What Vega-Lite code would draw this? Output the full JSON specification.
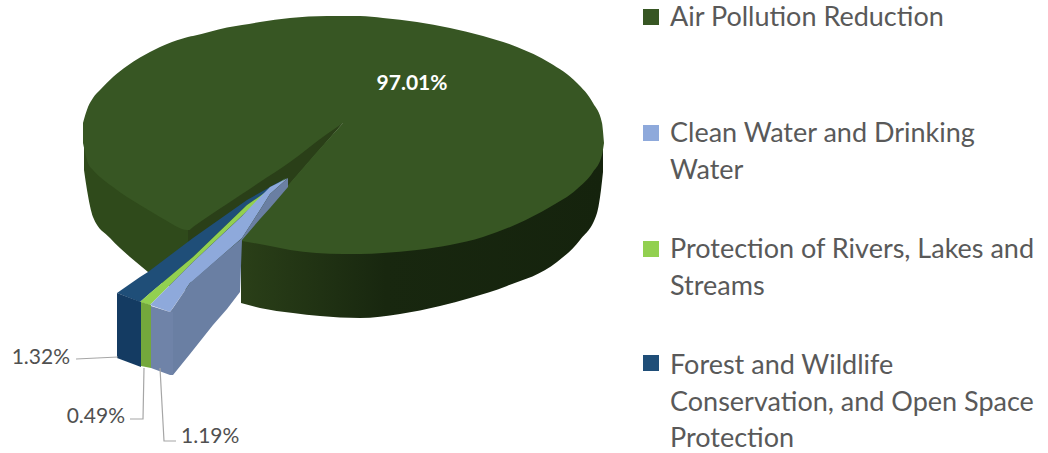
{
"$schema":"https://vega.github.io/schema/vega-lite/v6.json",
"width":1048,"height":453,"padding":0,
"autosize":{"type":"fit","contains":"padding"},
"background":"#ffffff",
"view":{"stroke":null},
"resolve":{"scale":{"color":"independent"}},
"encoding":{
"x":{"field":"x","type":"quantitative","axis":null,"scale":{"domain":[0,1048],"nice":false,"zero":false}},
"y":{"field":"y","type":"quantitative","axis":null,"scale":{"domain":[453,0],"nice":false,"zero":false}}
},
"layer":[
{"data":{"values":[
{"x":241,"y":232,"y2":303},{"x":260,"y":238,"y2":308},{"x":293,"y":242,"y2":313},{"x":320,"y":245,"y2":316},{"x":360,"y":246,"y2":318},{"x":400,"y":244,"y2":314},{"x":440,"y":239,"y2":306},{"x":470,"y":233,"y2":298},{"x":507,"y":222,"y2":286},{"x":557,"y":196,"y2":262},{"x":580,"y":179,"y2":240},{"x":597,"y":157,"y2":213},{"x":601,"y":143,"y2":190},{"x":603,"y":135,"y2":172}]},
"mark":{"type":"area","interpolate":"monotone","color":{"gradient":"linear","x1":0,"x2":1,"y1":0,"y2":0,"stops":[{"offset":0,"color":"#2a3f18"},{"offset":0.4,"color":"#18270f"},{"offset":1,"color":"#15230d"}]}},
"encoding":{"y2":{"field":"y2"}}},
{"data":{"values":[
{"part":"left wall","x":84,"y":135,"y2":170},{"part":"left wall","x":87,"y":150,"y2":190},{"part":"left wall","x":93,"y":160,"y2":217},{"part":"left wall","x":110,"y":175,"y2":238},{"part":"left wall","x":130,"y":190,"y2":257},{"part":"left wall","x":148,"y":200,"y2":272},{"part":"left wall","x":160,"y":208,"y2":282},{"part":"left wall","x":188,"y":222,"y2":290},
{"part":"notch","x":188,"y":226,"y2":290},{"part":"notch","x":242,"y":190,"y2":240},{"part":"notch","x":290,"y":158,"y2":184},{"part":"notch","x":343,"y":122,"y2":123},
{"part":"top a","x":83,"y":123,"y2":143},{"part":"top a","x":88,"y":107,"y2":163},{"part":"top a","x":93,"y":98,"y2":170},{"part":"top a","x":100,"y":90,"y2":177},{"part":"top a","x":113,"y":77,"y2":187},{"part":"top a","x":127,"y":66,"y2":197},{"part":"top a","x":140,"y":57.5,"y2":205},{"part":"top a","x":160,"y":47,"y2":217},{"part":"top a","x":167,"y":44,"y2":221},{"part":"top a","x":187,"y":37.3,"y2":230},{"part":"top a","x":189,"y":36.7,"y2":230},{"part":"top a","x":193,"y":36,"y2":227},{"part":"top a","x":227,"y":27.5,"y2":204},{"part":"top a","x":242,"y":25,"y2":194},{"part":"top a","x":260,"y":22,"y2":182},{"part":"top a","x":290,"y":18,"y2":162},{"part":"top a","x":327,"y":16,"y2":134},{"part":"top a","x":343,"y":16,"y2":123},
{"part":"top b","x":343,"y":16,"y2":254},{"part":"top b","x":360,"y":16,"y2":254},{"part":"top b","x":383,"y":18,"y2":253},{"part":"top b","x":417,"y":22,"y2":250},{"part":"top b","x":450,"y":28,"y2":245},{"part":"top b","x":483,"y":36,"y2":237},{"part":"top b","x":517,"y":47,"y2":224},{"part":"top b","x":550,"y":63,"y2":207},{"part":"top b","x":577,"y":83,"y2":189},{"part":"top b","x":593,"y":103,"y2":172},{"part":"top b","x":602,"y":123,"y2":155},{"part":"top b","x":604,"y":143,"y2":143},
{"part":"top c","x":242,"y":238,"y2":241},{"part":"top c","x":270,"y":206,"y2":246},{"part":"top c","x":290,"y":183,"y2":250},{"part":"top c","x":316,"y":153,"y2":253},{"part":"top c","x":343,"y":123,"y2":254}
]},
"mark":{"type":"area","interpolate":"monotone"},
"encoding":{"y2":{"field":"y2"},"detail":{"field":"part"},
"color":{"field":"part","type":"nominal","legend":null,"scale":{
"domain":["left wall","notch","top a","top b","top c"],
"range":["#2f4a1b","#2a3f18","#375623","#375623","#375623"]}}}},
{"data":{"values":[
{"part":"forest top","x":117,"y":293,"y2":293},{"part":"forest top","x":140,"y":277,"y2":302},{"part":"forest top","x":148,"y":272,"y2":295},{"part":"forest top","x":193,"y":238,"y2":257},{"part":"forest top","x":247,"y":200,"y2":205},{"part":"forest top","x":286,"y":178,"y2":178},
{"part":"rivers top","x":140,"y":302,"y2":302},{"part":"rivers top","x":150,"y":293,"y2":305},{"part":"rivers top","x":193,"y":257,"y2":262},{"part":"rivers top","x":247,"y":205,"y2":211},{"part":"rivers top","x":286,"y":178,"y2":178},
{"part":"water top","x":150,"y":305,"y2":305},{"part":"water top","x":170,"y":285,"y2":312},{"part":"water top","x":190,"y":265,"y2":283},{"part":"water top","x":193,"y":262,"y2":281},{"part":"water top","x":242,"y":216,"y2":238},{"part":"water top","x":260,"y":197,"y2":210},{"part":"water top","x":270,"y":187,"y2":194},{"part":"water top","x":288,"y":178,"y2":178},
{"part":"water side","x":170,"y":312,"y2":370},{"part":"water side","x":173,"y":308,"y2":375},{"part":"water side","x":190,"y":283,"y2":354},{"part":"water side","x":213,"y":263,"y2":325},{"part":"water side","x":227,"y":251,"y2":309},{"part":"water side","x":240,"y":240,"y2":292},{"part":"water side","x":242,"y":238,"y2":240},{"part":"water side","x":260,"y":210,"y2":219},{"part":"water side","x":270,"y":194,"y2":208},{"part":"water side","x":288,"y":178,"y2":187},
{"part":"forest front","x":117,"y":293,"y2":358},{"part":"forest front","x":141,"y":302,"y2":367},
{"part":"rivers front","x":141,"y":302,"y2":366},{"part":"rivers front","x":151,"y":305,"y2":368},
{"part":"water front","x":151,"y":306,"y2":368},{"part":"water front","x":170,"y":312,"y2":375},{"part":"water front","x":173,"y":312,"y2":375}
]},
"mark":{"type":"area"},
"encoding":{"y2":{"field":"y2"},"detail":{"field":"part"},
"color":{"field":"part","type":"nominal","legend":null,"scale":{
"domain":["forest top","rivers top","water top","water side","forest front","rivers front","water front"],
"range":["#1f4e78","#92d050","#8ea9db","#6a7fa3","#143b62","#74a83c","#6f83a8"]}}}},
{"data":{"values":[
{"leader":"1.32%","i":0,"x":76,"y":359},{"leader":"1.32%","i":1,"x":118,"y":357},
{"leader":"0.49%","i":0,"x":130,"y":419},{"leader":"0.49%","i":1,"x":143,"y":419},{"leader":"0.49%","i":2,"x":144,"y":368},
{"leader":"1.19%","i":0,"x":176,"y":441},{"leader":"1.19%","i":1,"x":164,"y":441},{"leader":"1.19%","i":2,"x":160,"y":368}]},
"mark":{"type":"line","color":"#a6a6a6","strokeWidth":1.2},
"encoding":{"detail":{"field":"leader"},"order":{"field":"i"}}},
{"data":{"values":[
{"label":"1.32%","share":1.32,"x":70,"y":364},
{"label":"0.49%","share":0.49,"x":125,"y":423}]},
"mark":{"type":"text","font":"Lato","fontSize":21,"align":"right","baseline":"alphabetic","color":"#505050"},
"encoding":{"text":{"field":"label"}}},
{"data":{"values":[{"label":"1.19%","share":1.19,"x":181,"y":443}]},
"mark":{"type":"text","font":"Lato","fontSize":21,"align":"left","baseline":"alphabetic","color":"#505050"},
"encoding":{"text":{"field":"label"}}},
{"data":{"values":[{"label":"97.01%","share":97.01,"x":412,"y":90}]},
"mark":{"type":"text","font":"Lato","fontSize":21,"fontWeight":"bold","align":"center","baseline":"alphabetic","color":"#ffffff"},
"encoding":{"text":{"field":"label"}}},
{"data":{"values":[
{"category":"Air Pollution Reduction","x":651,"y":17},
{"category":"Clean Water and Drinking Water","x":651,"y":133},
{"category":"Protection of Rivers, Lakes and Streams","x":651,"y":249},
{"category":"Forest and Wildlife Conservation, and Open Space Protection","x":651,"y":363}]},
"mark":{"type":"point","shape":"square","filled":true,"size":256,"opacity":1,"strokeWidth":0},
"encoding":{"color":{"field":"category","type":"nominal","legend":null,"scale":{
"domain":["Air Pollution Reduction","Clean Water and Drinking Water","Protection of Rivers, Lakes and Streams","Forest and Wildlife Conservation, and Open Space Protection"],
"range":["#375623","#8ea9db","#92d050","#1f4e78"]}}}},
{"data":{"values":[
{"text":"Air Pollution Reduction","x":670,"y":26},
{"text":"Clean Water and Drinking|Water","x":670,"y":142},
{"text":"Protection of Rivers, Lakes and|Streams","x":670,"y":258},
{"text":"Forest and Wildlife|Conservation, and Open Space|Protection","x":670,"y":374}]},
"mark":{"type":"text","font":"Lato","fontSize":27,"lineHeight":36.5,"lineBreak":"|","align":"left","baseline":"alphabetic","color":"#595959"},
"encoding":{"text":{"field":"text"}}}
]
}
